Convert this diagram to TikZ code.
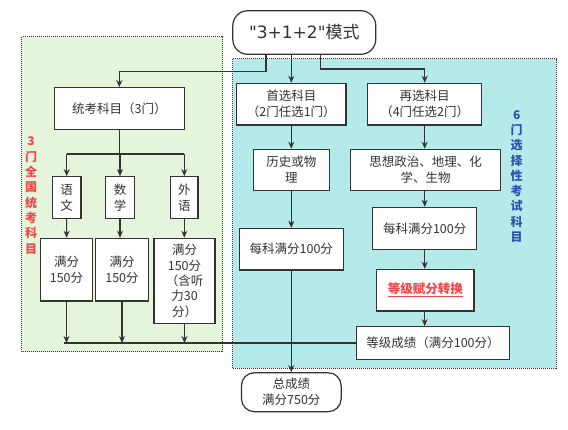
\documentclass[tikz,border=0pt]{standalone}
\usepackage{fontspec}
\setmainfont{Noto Sans CJK SC}
\newfontfamily\latinfont{DejaVu Sans}
\usetikzlibrary{arrows.meta}
\definecolor{lightgreen}{HTML}{E4F5DC}
\definecolor{lightcyan}{HTML}{B5EAEA}
\definecolor{darkline}{HTML}{333333}
\definecolor{redtext}{HTML}{F04848}
\definecolor{bluetext}{HTML}{3050B0}
\begin{document}
\begin{tikzpicture}[x=1pt, y=-1pt,
    box/.style={draw=darkline, fill=white, line width=1.2pt, text=darkline, align=center,
      font=\fontsize{12.5}{16}\selectfont, inner sep=1pt},
    arr/.style={draw=darkline, line width=1.2pt, -{Stealth[length=7pt,width=6pt]}},
    line/.style={draw=darkline, line width=1.2pt},
    side/.style={align=center, font=\fontsize{12}{15.3}\selectfont\bfseries}]
  \useasboundingbox (0,0) rectangle (568,429);
  % two regions
  \filldraw[fill=lightgreen, draw=darkline, densely dotted, line width=1pt] (21.7,36.7) rectangle (222.7,351.7);
  \filldraw[fill=lightcyan, draw=darkline, densely dotted, line width=1pt] (232.7,58.7) rectangle (556,368.3);
  \node[side, text=redtext] (lbl3) at (31,195.5) {3\\门\\全\\国\\统\\考\\科\\目};
  \node[side, text=bluetext] (lbl6) at (516.7,176.4) {6\\门\\选\\择\\性\\考\\试\\科\\目};

  \node[box, rounded corners=15pt, minimum width=143pt, minimum height=43.6pt,
    font=\fontsize{17}{20}\selectfont] (mode) at (304.3,32.5) {{\latinfont\char34 3+1+2\char34}模式};

  % left part
  \node[box, minimum width=130pt, minimum height=41.6pt] (tk) at (119.3,108.5) {统考科目（3门）};
  \node[box, minimum width=28.7pt, minimum height=41.6pt] (yw) at (66.7,197.5) {语\\文};
  \node[box, minimum width=28.6pt, minimum height=41.6pt] (sx) at (120,197.5) {数\\学};
  \node[box, minimum width=27.3pt, minimum height=41.6pt] (wy) at (184.3,197.5) {外\\语};
  \node[box, minimum width=51.6pt, minimum height=62.7pt] (s1) at (66.5,269.7) {满分\\150分};
  \node[box, minimum width=52.6pt, minimum height=62.7pt] (s2) at (122,269.7) {满分\\150分};
  \node[box, minimum width=61pt, minimum height=85pt,
    font=\fontsize{12.5}{15.3}\selectfont] (s3) at (184.5,280.8) {满分\\150分\\（含听\\力30\\分）};

  % right part
  \node[box, minimum width=109.3pt, minimum height=41.7pt] (sxk) at (291.3,104.2) {首选科目\\（2门任选1门）};
  \node[box, minimum width=76.3pt, minimum height=41.4pt] (ls) at (291.3,170) {历史或物\\理};
  \node[box, minimum width=104pt, minimum height=41.7pt] (m1) at (291.3,249.2) {每科满分100分};
  \node[box, minimum width=114pt, minimum height=41.7pt] (zxk) at (424.7,104.2) {再选科目\\（4门任选2门）};
  \node[box, minimum width=150pt, minimum height=41.4pt] (sz) at (425.7,170) {思想政治、地理、化\\学、生物};
  \node[box, minimum width=104pt, minimum height=42pt] (m2) at (424.7,228.3) {每科满分100分};
  \node[box, minimum width=97.3pt, minimum height=41.7pt, text=redtext,
    font=\fontsize{12.5}{16}\selectfont\bfseries] (dj) at (425.3,290.2) {\underline{等级赋分转换}};
  \node[box, minimum width=152.6pt, minimum height=32.6pt] (cj) at (433,343) {等级成绩（满分100分）};
  \node[box, rounded corners=13pt, minimum width=99.7pt, minimum height=39pt] (zcj) at (291.3,392.2) {总成绩\\满分750分};

  % connectors from the mode
  \draw[arr] ([xshift=-38.3pt]mode.south) -- ++(0,16.7) -| (tk.north);
  \draw[arr] (mode.south -| sxk.north) -- (sxk.north);
  \draw[arr] ([xshift=16.4pt]mode.south) -- ++(0,14) -| (zxk.north);
  % left branches
  \draw[line] (tk.south) -- ++(0,24) coordinate (br);
  \draw[line] (yw.north |- br) -- (wy.north |- br);
  \foreach \n in {yw,sx,wy} \draw[arr] (\n.north |- br) -- (\n.north);
  \draw[arr] (yw) -- (s1);
  \draw[arr] (sx.south) -- (sx.south |- s2.north);
  \draw[arr] (wy.south) -- (wy.south |- s3.north);
  \foreach \n in {s1,s2,s3} \draw[arr] (\n.south) -- (\n.south |- cj.west);
  \draw[line] ([xshift=-2.5pt]s1.south |- cj.west) -- (cj.west);
  % right chains
  \draw[arr] (sxk) -- (ls);
  \draw[arr] (ls) -- (m1);
  \draw[arr] (m1) -- (zcj);
  \draw[arr] (zxk.south) -- (zxk.south |- sz.north);
  \draw[arr] (zxk.south |- sz.south) -- (zxk.south |- m2.north);
  \draw[arr] (m2.south) -- (m2.south |- dj.north);
  \draw[arr] (m2.south |- dj.south) -- (m2.south |- cj.north);
\end{tikzpicture}
\end{document}
